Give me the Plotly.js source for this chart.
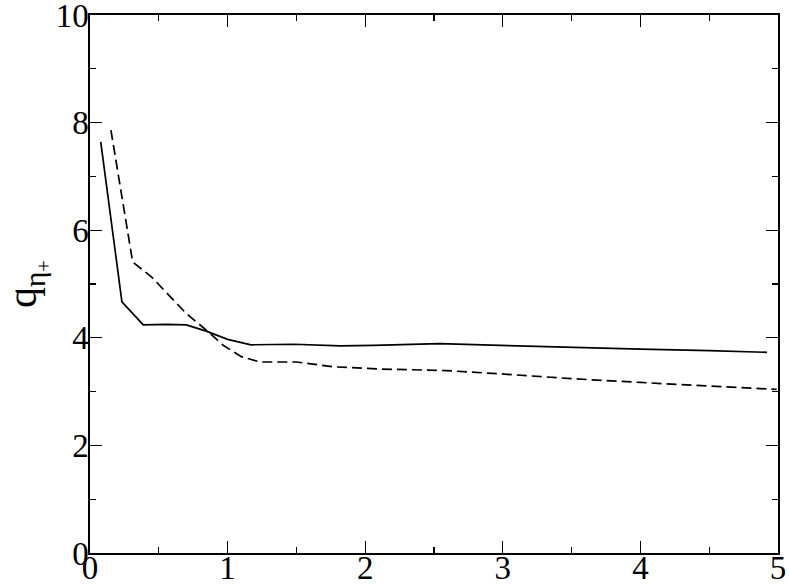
<!DOCTYPE html>
<html>
<head>
<meta charset="utf-8">
<script src="https://cdn.plot.ly/plotly-3.0.1.min.js"></script>
<style>
  html, body { margin: 0; padding: 0; background: #ffffff; }
  #chart { width: 789px; height: 586px; }
</style>
</head>
<body>
<div id="chart"></div>
<script>
// solid curve
const solid_x = [0.078, 0.232, 0.387, 0.55, 0.70, 0.85, 1.00, 1.17, 1.48, 1.82, 2.06, 2.54, 2.98, 3.50, 4.00, 4.50, 4.92];
const solid_y = [7.64, 4.67, 4.24, 4.25, 4.24, 4.12, 3.97, 3.87, 3.88, 3.85, 3.86, 3.89, 3.86, 3.82, 3.79, 3.76, 3.73];

// dashed curve
const dashed_x = [0.152, 0.31, 0.448, 0.70, 0.847, 0.968, 1.10, 1.235, 1.50, 1.77, 2.11, 2.59, 2.98, 3.50, 4.00, 4.50, 4.99];
const dashed_y = [7.86, 5.41, 5.13, 4.45, 4.14, 3.86, 3.65, 3.55, 3.55, 3.46, 3.42, 3.39, 3.33, 3.24, 3.17, 3.11, 3.04];

// tick labels
const x_ticks = [0, 1, 2, 3, 4, 5];
const y_ticks = [0, 2, 4, 6, 8, 10];
const y_title = 'q<sub>η<sub>+</sub></sub>';

const serif = 'Liberation Serif';

var trace1 = {
    x: solid_x,
    y: solid_y,
    type: 'scatter',
    mode: 'lines',
    line: {color: '#000000', width: 1.7},
    showlegend: false
};

var trace2 = {
    x: dashed_x,
    y: dashed_y,
    type: 'scatter',
    mode: 'lines',
    line: {color: '#000000', width: 1.7, dash: '10px,5px'},
    showlegend: false
};

var layout = {
    width: 789,
    height: 586,
    margin: {l: 90, r: 11, t: 15, b: 33, pad: 0},
    paper_bgcolor: '#ffffff',
    plot_bgcolor: '#ffffff',
    font: {family: serif, size: 33, color: '#000000'},
    xaxis: {
        range: [0, 5],
        tickmode: 'array',
        tickvals: x_ticks,
        ticktext: x_ticks.map(String),
        ticks: 'inside',
        ticklen: 12,
        tickwidth: 1.3,
        tickcolor: '#000000',
        minor: {dtick: 0.5, ticks: 'inside', ticklen: 6, tickwidth: 1.3, tickcolor: '#000000'},
        showline: true,
        linecolor: '#000000',
        linewidth: 1.6,
        mirror: 'allticks',
        showgrid: false,
        zeroline: false,
        automargin: false,
        ticklabeloverflow: 'allow',
        tickfont: {family: serif, size: 33, color: '#000000'},
        ticklabelstandoff: -15
    },
    yaxis: {
        range: [0, 10],
        tickmode: 'array',
        tickvals: y_ticks,
        ticktext: y_ticks.map(String),
        ticks: 'inside',
        ticklen: 12,
        tickwidth: 1.3,
        tickcolor: '#000000',
        minor: {dtick: 1, ticks: 'inside', ticklen: 6, tickwidth: 1.3, tickcolor: '#000000'},
        showline: true,
        linecolor: '#000000',
        linewidth: 1.6,
        mirror: 'allticks',
        showgrid: false,
        zeroline: false,
        automargin: false,
        ticklabeloverflow: 'allow',
        tickfont: {family: serif, size: 33, color: '#000000'}
        ,ticklabelstandoff: -7
    },
    // y title as a rotated annotation so it can sit at the far left like the reference
    annotations: [{
        text: y_title,
        xref: 'paper',
        yref: 'paper',
        x: 0,
        y: 0.5,
        xanchor: 'center',
        yanchor: 'middle',
        xshift: -63,
        textangle: -90,
        showarrow: false,
        font: {family: serif, size: 42, color: '#000000'}
    }]
};

Plotly.newPlot('chart', [trace1, trace2], layout, {staticPlot: true});
</script>
</body>
</html>
